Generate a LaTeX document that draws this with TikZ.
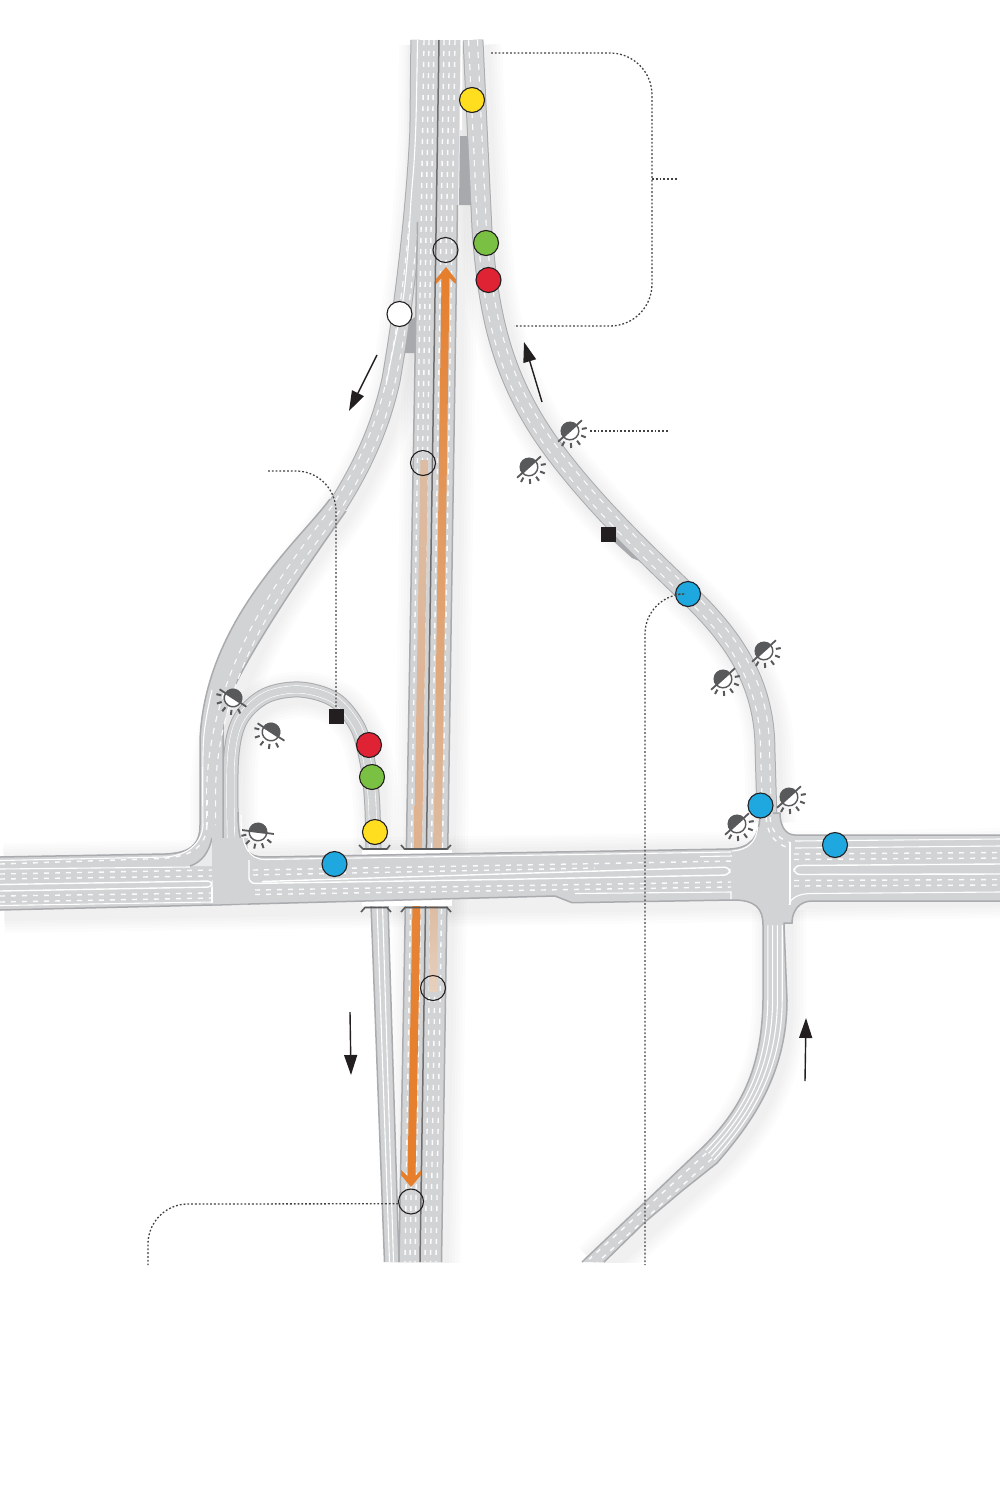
\documentclass[tikz,border=0pt]{standalone}
\usetikzlibrary{arrows.meta}
\definecolor{roadgrey}{HTML}{D1D3D4}
\definecolor{rimgrey}{HTML}{A9ABAE}
\definecolor{goregrey}{HTML}{A7A9AC}
\definecolor{darkgrey}{HTML}{58595B}
\definecolor{inkblack}{HTML}{231F20}
\definecolor{spotyellow}{HTML}{FFDE20}
\definecolor{spotgreen}{HTML}{7AC143}
\definecolor{spotred}{HTML}{DF2335}
\definecolor{spotblue}{HTML}{1FA7E0}
\definecolor{flow}{HTML}{E67E2B}
\definecolor{flowmid}{HTML}{E3A070}
\definecolor{flowpale}{HTML}{DDBCA2}

\tikzstyle{roadfill}=[fill=roadgrey]
\tikzstyle{rim}=[draw=rimgrey,line width=.75pt]
\tikzstyle{laneline}=[draw=white,line width=.55pt]
\tikzstyle{lanedash}=[draw=white!92!roadgrey,line width=.7pt,dash pattern=on 2.5pt off 3pt]
\tikzstyle{spot}=[circle,draw=inkblack,line width=.55pt,minimum size=12.5pt,inner sep=0pt]
\tikzstyle{boxmark}=[rectangle,fill=inkblack,minimum size=7.5pt,inner sep=0pt]
\tikzstyle{leader}=[draw=inkblack!85,line width=.65pt,dash pattern=on .9pt off 1pt]
\tikzstyle{heading}=[draw=inkblack,line width=.7pt,-{Triangle[length=10pt,width=6.5pt]}]
\tikzstyle{span}=[draw=darkgrey,line width=.8pt,line join=round]

\tikzset{lamp/.pic={
    \begin{scope}[x=.5pt,y=.5pt]
    \fill[white] (0,0) circle (9);
    \draw[darkgrey,line width=.7pt] (0,0) circle (8.8);
    \fill[darkgrey] (9.2,0) arc (0:180:9.2) -- cycle;
    \draw[darkgrey,line width=.9pt] (-16,0) -- (16,0);
    \foreach \ray in {-160,-128,-96,-64,-32}
    \draw[darkgrey,line width=1pt] (\ray:12) -- (\ray:17);
    \end{scope}}}

% centre lines of the bends
\def\rampnwtop{(420,40) -- (419,130) .. controls (416,200) and (405,300) .. (391,380) .. controls (380,430) and (360,470) .. (338,505)}
\def\rampnw{(420,40) -- (419,130) .. controls (416,200) and (405,300) .. (391,380) .. controls (380,430) and (360,470) .. (338,505) .. controls (310,548) and (215,650) .. (211,790) -- (211,838)}
\def\lanenw{(413.5,222) .. controls (410,270) and (402,330) .. (391,380) .. controls (380,430) and (360,470) .. (338,505) .. controls (310,548) and (215,650) .. (211,790) -- (211,825)}
\def\rampne{(473,40) -- (482,230) .. controls (488,310) and (500,375) .. (550,445) .. controls (590,500) and (640,548) .. (688,594) .. controls (730,634) and (765,680) .. (765,750) -- (767,818)}
\def\loopbend{plot[smooth,tension=.55] coordinates {(231,840) (231,760) (240,720) (265,696) (300,689.5) (335,700) (358,728) (368,765) (372,800) (373.5,848)}}
\def\southbend{(775,905) -- (775,1000) .. controls (774,1075) and (742,1120) .. (710,1155) -- (593,1262)}
\def\freeway{(440,40) -- (420,1262)}
\def\crossroad{(0,883) -- (1000,868)}

\begin{document}
\begin{tikzpicture}[x=.5pt,y=-.5pt]
    \useasboundingbox (0,0) rectangle (1000,1488);

    % soft shadows
    \begin{scope}
    \clip (0,40) rectangle (1000,1262);
    \foreach \grow in {3,6,9,12,15}
    \foreach \road/\wide in {\rampnw/10,\rampne/10,\loopbend/8,\southbend/12,\freeway/22,\crossroad/30}
    {
        \pgfmathsetmacro{\total}{\wide+\grow}
        \draw[black,opacity=.012,shift={(4,5)},line width=\total pt] \road;
    }
    \end{scope}

    % gores
    \fill[goregrey] (460,136) -- (473,136) -- (473,205) -- (459,205) -- cycle;
    \fill[goregrey] (404,325) -- (415,317) -- (415,353) -- (401,353) -- cycle;
    \fill[goregrey] (608,527) -- (620,537) -- (649,565) -- (632,558) -- (612,540) -- cycle;

    % ramps
    \foreach \road/\rimw/\bodyw in {\rampnwtop/9.6/8.6,\rampne/10.4/9.4,\loopbend/8/7}
    {
        \draw[draw=rimgrey,line width=\rimw pt] \road;
        \draw[draw=roadgrey,line width=\bodyw pt] \road;
    }
    \fill[roadfill] (330,499) .. controls (300,540) and (205,620) .. (200,740) -- (200,838) -- (223,838)
        -- (223,720) .. controls (224,690) and (290,590) .. (346,511) -- cycle;
    \draw[rim] (330,499) .. controls (300,540) and (205,620) .. (200,740) -- (200,838);
    \draw[rim] (223,838) -- (223,720) .. controls (224,690) and (290,590) .. (346,511);
    \foreach \road in {\lanenw,\rampne}
    {
        \draw[draw=white!92!roadgrey,line width=5pt,dash pattern=on 3pt off 3pt] \road;
        \draw[draw=roadgrey,line width=3.8pt] \road;
    }
    \draw[draw=white,line width=4pt] \loopbend;
    \draw[draw=roadgrey,line width=3.4pt] \loopbend;
    \draw[laneline] plot[smooth,tension=.55] coordinates {(417.5,40) (416,120) (414,163) (411,200) (408,250) (403,300) (393,350) (386,385)};
    \draw[laneline] plot[smooth,tension=.55] coordinates {(203,828) (203.5,740) (212,690)};
    \draw[draw=white,line width=1pt] (461.5,40) -- (461,130);

    % main carriageways
    \fill[roadfill] (420.5,40) -- (460.5,40) -- (441.5,1262) -- (399,1262) -- cycle;
    \draw[rim] (417.5,222) -- (399,1262);
    \draw[rim] (457.5,205) -- (441.5,1262);
    \foreach \from/\to in {424/405,429/410,434/415,444/425,449.5/430.5,455/436}
    \draw[lanedash] (\from,40) -- (\to,1262);
    \draw[draw=inkblack!65,line width=.75pt] (439,40) -- (420,1262);

    % flow bands
    \shade[top color=flow,middle color=flowmid,bottom color=flowpale]
        (446,267) -- (455.5,279) -- (455.5,284) -- (449.5,278) -- (441.5,850) -- (433.5,850) -- (441.5,278) -- (436,284) -- (436,279) -- cycle;
    \shade[top color=flowpale,bottom color=flowpale!60!flowmid]
        (420.5,460) -- (428,460) -- (422,850) -- (414,850) -- cycle;
    \shade[top color=flow!85!flowmid,bottom color=flow]
        (412.5,905) -- (420.5,905) -- (415.5,1176) -- (421,1170) -- (421,1175) -- (411,1187) -- (401,1175) -- (401,1170) -- (407.5,1176) -- cycle;
    \shade[top color=flowpale,bottom color=flowpale!70!white]
        (430,905) -- (438,905) -- (437,992) -- (429,992) -- cycle;

    % south carriageway beside the main one
    \fill[roadfill] (371,905) -- (388,905) -- (399,1262) -- (384.5,1262) -- cycle;
    \draw[rim] (371,905) -- (384.5,1262);
    \draw[rim] (388,905) -- (399,1262);
    \foreach \from/\to in {377/389.5,382.5/393.5}
    \draw[laneline] (\from,905) -- (\to,1262);

    % road from the south
    \fill[roadfill] (763,925) -- (763,1000) .. controls (762,1070) and (740,1110) .. (703,1147)
        -- (582,1262) -- (604,1262) -- (645,1222) -- (683,1190) -- (717,1163)
        .. controls (745,1130) and (787,1080) .. (787,1000) -- (784,925) -- cycle;
    \draw[rim] (763,925) -- (763,1000) .. controls (762,1070) and (740,1110) .. (703,1147) -- (582,1262);
    \draw[rim] (604,1262) -- (645,1222) -- (683,1190) -- (717,1163)
        .. controls (745,1130) and (787,1080) .. (787,1000) -- (784,925);
    \foreach \t in {.2,.4,.6,.8}
    \draw[laneline] ({763+24*\t},908) -- ({763+24*\t},1000)
        .. controls ({762+25*\t},{1070+10*\t}) and ({740+5*\t},{1110+20*\t}) .. ({703+14*\t},{1147+16*\t});
    \foreach \off in {-4,4}
    \draw[lanedash] ({709+\off*.7},{1156+\off*.7}) -- ({592+\off*.7},{1262+\off*.7});

    % gap under the spans
    \fill[white] (362,849.5) rectangle (452,905.5);

    % cross road
    \fill[roadfill] (0,857) -- (165,854) -- (212,853) -- (212,905) -- (0,910) -- cycle;
    \fill[roadfill] (200,825) .. controls (200,845) and (190,853) .. (165,854) -- (212,862) -- (212,825) -- cycle;
    \draw[rim] (0,857) -- (165,854) .. controls (190,853) and (200,845) .. (200,825);
    \fill[white!55!roadgrey] (212,838) .. controls (209,852) and (202,862) .. (190,866) -- (212,866) -- cycle;
    \draw[rim] (212,838) .. controls (209,852) and (202,862) .. (190,866);
    \fill[roadfill] (248,857) -- (730,849) -- (735,900) -- (572,902.7) -- (555,896) -- (248,904) -- cycle;
    \filldraw[roadfill,draw=none] (238,812) .. controls (238,846) and (245,857) .. (265,857) -- (250,870) -- (231,860) -- cycle;
    \draw[rim] (238,812) .. controls (238,846) and (245,857) .. (265,857) -- (730,849);
    \draw[rim] (0,910) -- (212,905) -- (555,896) -- (572,902.7) -- (733,900);
    \fill[roadfill] (212,838) -- (248,838) -- (248,905) -- (212,905) -- cycle;
    \draw[draw=rimgrey,line width=.5pt] (212,905) -- (248,904);

    % crossing by the east
    \fill[roadfill] (760,815) .. controls (759,838) and (750,848) .. (730,849) -- (733,900)
        .. controls (755,900) and (763,908) .. (763,925) -- (784,925) -- (784,923) -- (792,923)
        .. controls (792,910) and (800,901) .. (812,901) -- (1000,901) -- (1000,835) -- (795,835)
        .. controls (785,835) and (780,825) .. (780,813) -- (773,813) -- cycle;
    \draw[rim] (760,815) .. controls (759,838) and (750,848) .. (730,849);
    \draw[rim] (733,900) .. controls (755,900) and (763,908) .. (763,925);
    \draw[rim] (784,925) -- (784,923) -- (792,923) .. controls (792,910) and (800,901) .. (812,901) -- (1000,901);
    \draw[rim] (1000,835) -- (795,835) .. controls (785,835) and (780,825) .. (780,813) -- (773,813);

    % lane lines west
    \foreach \xa/\ya/\xb/\yb in {0/874/212/870,0/879/212/876,0/896/212/893,0/902/212/898,207/800/207/825}
    \draw[lanedash] (\xa,\ya) -- (\xb,\yb);
    \draw[lanedash] (207,825) .. controls (206,848) and (190,857) .. (160,858.5) -- (0,864);
    \draw[laneline] (203,825) .. controls (202,845) and (185,856) .. (165,857) -- (0,860.5);
    \draw[laneline] (0,869) -- (190,867);
    \draw[laneline] (0,905.5) -- (212,902);
    \draw[laneline,line width=.7pt,rounded corners=2pt] (0,884.5) -- (212,881) -- (212,887) -- (0,891);
    \draw[laneline] (212,887) -- (212,903);

    % lane lines middle
    \draw[laneline] (241,815) .. controls (241,845) and (248,859.5) .. (265,859.5) -- (731,852);
    \draw[laneline,line width=.7pt,rounded corners=3pt] (249,860) -- (249,883.5) -- (500,879.5) -- (730,875) -- (730,867) -- (500,874) -- (262,881.5);
    \foreach \xa/\ya/\xb/\yb in {253/870/733/861,253/875/595/868,255/890/731/882,255/894.5/731/887}
    \draw[lanedash] (\xa,\ya) -- (\xb,\yb);
    \draw[laneline] (575,893.5) -- (731,892) -- (731,899);
    \draw[laneline] (700,856.5) -- (732,856);

    % lane lines east
    \foreach \ya/\yb in {841/839,848/846}
    \draw[laneline] (795,\ya) -- (1000,\yb);
    \foreach \ya/\yb in {854/852.5,859.5/858,880.5/879.5,886/885}
    \draw[lanedash] (794,\ya) -- (1000,\yb);
    \draw[laneline,line width=.7pt,rounded corners=3pt] (1000,864) -- (794,865.5) -- (794,874.5) -- (1000,874);
    \draw[laneline] (789,905) .. controls (791,897) and (800,893.5) .. (812,893.5) -- (1000,892);
    \draw[laneline] (790,842) -- (790,905);
    \draw[laneline] (758,827) .. controls (756,842) and (748,850) .. (732,851);
    \draw[lanedash] (770,817) .. controls (771,830) and (777,838) .. (789,842);
    \draw[lanedash] (766,817) .. controls (767,832) and (773,842) .. (786,847);

    % spans
    \draw[span] (359,845) -- (363,849) -- (387,849) -- (390,845);
    \draw[span] (401,845) -- (404.5,849) -- (447,849) -- (451,845);
    \draw[span] (361,912) -- (365,907.5) -- (387,907.5) -- (391,912);
    \draw[span] (401,912) -- (405,907.5) -- (447,907.5) -- (451,912);

    % lamps
    \pic[rotate=-33] (lampa) at (233,698) {lamp};
    \pic[rotate=-33] (lampb) at (271,732) {lamp};
    \pic[rotate=-7] (lampc) at (258,832) {lamp};
    \pic[rotate=42] (lampd) at (529,467) {lamp};
    \pic[rotate=42] (lampe) at (570,431) {lamp};
    \pic[rotate=42] (lampf) at (764,651) {lamp};
    \pic[rotate=42] (lampg) at (723,679) {lamp};
    \pic[rotate=42] (lamph) at (789,797) {lamp};
    \pic[rotate=42] (lampi) at (737,824) {lamp};

    % markers
    \node[spot,fill=spotyellow] (yellowtop) at (472,100) {};
    \node[spot,fill=spotgreen] (greentop) at (486,243) {};
    \node[spot,fill=spotred] (redtop) at (488.5,280) {};
    \node[spot,fill=white] (whitetop) at (399.5,314) {};
    \node[spot] (holea) at (445.5,250) {};
    \node[spot] (holeb) at (423,463) {};
    \node[spot] (holec) at (433,988) {};
    \node[spot] (holed) at (411,1201.5) {};
    \node[spot,fill=spotred] (redloop) at (369,745) {};
    \node[spot,fill=spotgreen] (greenloop) at (372,777) {};
    \node[spot,fill=spotyellow] (yellowloop) at (375,832) {};
    \node[spot,fill=spotblue] (bluea) at (334.5,864) {};
    \node[spot,fill=spotblue] (blueb) at (760.5,805.5) {};
    \node[spot,fill=spotblue] (bluec) at (835,845) {};
    \node[spot,fill=spotblue] (blued) at (688,594) {};
    \node[boxmark] (boxloop) at (336,716) {};
    \node[boxmark] (boxramp) at (608,534) {};

    % leaders
    \coordinate (braceup) at (491,53);
    \coordinate (bracedown) at (514,326);
    \coordinate (bracemid) at (652,179);
    \coordinate (braceout) at (678,179);
    \coordinate (lampout) at (668,431);
    \coordinate (lampin) at (590,431);
    \coordinate (loopout) at (268,471);
    \coordinate (blueout) at (645,1265);
    \coordinate (holeout) at (148,1265);
    \draw[leader,rounded corners=21pt] (braceup) -- (652,53) -- (652,326) -- (bracedown);
    \draw[leader] (bracemid) -- (braceout);
    \draw[leader] (lampin) -- (lampout);
    \draw[leader,rounded corners=20pt] (loopout) -- (336,471) -- (boxloop.north);
    \draw[leader,rounded corners=20pt] (blued.west) -- (645,594) -- (blueout);
    \draw[leader,rounded corners=20pt] (holed.190) -- (148,1204) -- (holeout);

    % headings
    \coordinate (nwtail) at (377,355);
    \coordinate (nwtip) at (349,411);
    \coordinate (netail) at (542,402);
    \coordinate (netip) at (524,342);
    \coordinate (stail) at (350,1012);
    \coordinate (stip) at (351,1075);
    \coordinate (etail) at (805,1081);
    \coordinate (etip) at (806,1018);
    \foreach \from/\to in {nwtail/nwtip,netail/netip,stail/stip,etail/etip}
    \draw[heading] (\from) -- (\to);
\end{tikzpicture}
\end{document}
